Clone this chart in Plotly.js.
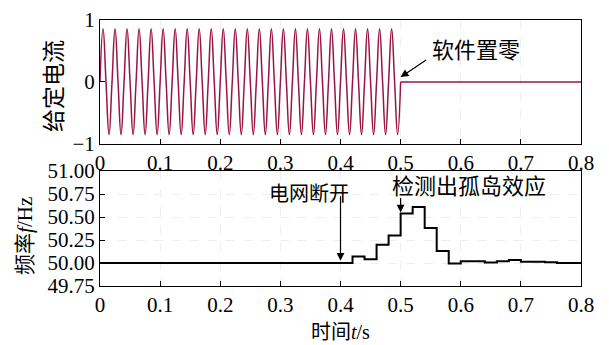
<!DOCTYPE html>
<html>
<head>
<meta charset="utf-8">
<script src="https://cdn.plot.ly/plotly-3.0.1.min.js"></script>
<style>html,body{margin:0;padding:0;background:#fff;}</style>
</head>
<body>
<div id="chart" style="width:609px;height:345px;"></div>
<script>
const currentT = [0,0.005,0.01,0.015,0.02,0.025,0.03,0.035,0.04,0.045,
  0.05,0.055,0.06,0.065,0.07,0.075,0.08,0.085,0.09,0.095,
  0.1,0.105,0.11,0.115,0.12,0.125,0.13,0.135,0.14,0.145,
  0.15,0.155,0.16,0.165,0.17,0.175,0.18,0.185,0.19,0.195,
  0.2,0.205,0.21,0.215,0.22,0.225,0.23,0.235,0.24,0.245,
  0.25,0.255,0.26,0.265,0.27,0.275,0.28,0.285,0.29,0.295,
  0.3,0.305,0.31,0.315,0.32,0.325,0.33,0.335,0.34,0.345,
  0.35,0.355,0.36,0.365,0.37,0.375,0.38,0.385,0.39,0.395,
  0.4,0.405,0.41,0.415,0.42,0.425,0.43,0.435,0.44,0.445,
  0.45,0.455,0.46,0.465,0.47,0.475,0.48,0.485,0.49,0.495,0.5];
const currentV = [0,0.86,0,-0.85,0,0.86,0,-0.85,0,0.86,
  0,-0.85,0,0.86,0,-0.85,0,0.86,0,-0.85,
  0,0.86,0,-0.85,0,0.86,0,-0.85,0,0.86,
  0,-0.85,0,0.86,0,-0.85,0,0.86,0,-0.85,
  0,0.86,0,-0.85,0,0.86,0,-0.85,0,0.86,
  0,-0.85,0,0.86,0,-0.85,0,0.86,0,-0.85,
  0,0.86,0,-0.85,0,0.86,0,-0.85,0,0.86,
  0,-0.85,0,0.86,0,-0.85,0,0.86,0,-0.85,
  0,0.86,0,-0.85,0,0.86,0,-0.85,0,0.86,
  0,-0.85,0,0.86,0,-0.85,0,0.86,0,-0.85,0];
const zeroT = [0.5, 0.8];
const zeroV = [0, 0];

// Bottom panel: measured frequency (step changes)
const freqT = [0, 0.42, 0.44, 0.46, 0.48, 0.50, 0.52, 0.54, 0.56, 0.58, 0.60, 0.64, 0.66, 0.68, 0.70, 0.74, 0.76, 0.80];
const freqV = [50.0, 50.07, 50.04, 50.20, 50.30, 50.54, 50.61, 50.38, 50.13, 49.995, 50.02, 50.005, 50.02, 50.033, 50.015, 50.008, 50.0, 50.0];

const xTickVals = [0, 0.1, 0.2, 0.3, 0.4, 0.5, 0.6, 0.7, 0.8];
const xTickText = ['0','0.1','0.2','0.3','0.4','0.5','0.6','0.7','0.8'];
const yTopTicks = [-1, 0, 1];
const yTopText = ['\u22121','0','1'];
const yBotTicks = [49.75, 50.0, 50.25, 50.5, 50.75, 51.0];

const serif = "'Liberation Serif', 'Noto Sans CJK SC', serif";
const tickFont = {family: serif, size: 21, color: '#000'};

const axisCommon = {
  showline: true, linecolor: '#000', linewidth: 1, mirror: true,
  ticks: 'inside', ticklen: 5, tickwidth: 1, tickcolor: '#000',
  tickfont: tickFont, zeroline: false,
  showgrid: true, gridcolor: '#eeeeee', griddash: 'dash', gridwidth: 1
};

const traces = [
  {x: currentT, y: currentV, type: 'scatter', mode: 'lines',
   line: {color: '#9b1540', width: 1.5, shape: 'spline', smoothing: 1.3},
   xaxis: 'x', yaxis: 'y', hoverinfo: 'skip'},
  {x: zeroT, y: zeroV, type: 'scatter', mode: 'lines',
   line: {color: '#9b1540', width: 1.5},
   xaxis: 'x', yaxis: 'y', hoverinfo: 'skip'},
  {x: freqT, y: freqV, type: 'scatter', mode: 'lines',
   line: {color: '#000', width: 2, shape: 'hv'},
   xaxis: 'x2', yaxis: 'y2', hoverinfo: 'skip'}
];

const layout = {
  width: 609, height: 345,
  margin: {l: 100, r: 28, t: 20, b: 59},
  paper_bgcolor: '#fff', plot_bgcolor: '#fff',
  showlegend: false,
  xaxis: Object.assign({}, axisCommon, {domain: [0, 1], range: [0, 0.8], tickvals: xTickVals, ticktext: xTickText, anchor: 'y'}),
  yaxis: Object.assign({}, axisCommon, {domain: [0.534, 1], range: [-1, 1], tickvals: yTopTicks, ticktext: yTopText, anchor: 'x', showgrid: false}),
  xaxis2: Object.assign({}, axisCommon, {domain: [0, 1], range: [0, 0.8], tickvals: xTickVals, ticktext: xTickText, anchor: 'y2'}),
  yaxis2: Object.assign({}, axisCommon, {domain: [0, 0.432], range: [49.75, 51], tickvals: yBotTicks, tickformat: '.2f', anchor: 'x2'}),
  annotations: [
    {xref: 'paper', yref: 'paper', x: -0.0936, y: 0.752, text: '给定电流', textangle: -90,
     showarrow: false, xanchor: 'center', yanchor: 'middle', font: {family: serif, size: 23, color: '#000'}},
    {xref: 'paper', yref: 'paper', x: -0.156, y: 0.188, text: '频率<i>f</i>/Hz', textangle: -90,
     showarrow: false, xanchor: 'center', yanchor: 'middle', font: {family: serif, size: 21, color: '#000'}},
    {xref: 'paper', yref: 'paper', x: 0.5, y: -0.172, text: '时间<i>t</i>/s',
     showarrow: false, xanchor: 'center', yanchor: 'middle', borderpad: 0, font: {family: serif, size: 20, color: '#000'}},
    // text labels
    {xref: 'x', yref: 'y', x: 0.625, y: 0.5, text: '软件置零', showarrow: false,
     xanchor: 'center', yanchor: 'middle', font: {family: serif, size: 22, color: '#000'}},
    {xref: 'x2', yref: 'y2', x: 0.348, y: 50.75, text: '电网断开', showarrow: false,
     xanchor: 'center', yanchor: 'middle', font: {family: serif, size: 20, color: '#000'}},
    {xref: 'x2', yref: 'y2', x: 0.614, y: 50.83, text: '检测出孤岛效应', showarrow: false,
     xanchor: 'center', yanchor: 'middle', font: {family: serif, size: 22, color: '#000'}},
    // arrows
    {xref: 'x', yref: 'y', x: 0.5, y: 0.08, ax: 27, ay: -18, text: '', showarrow: true,
     arrowhead: 2, arrowsize: 1.3, arrowwidth: 1.2, arrowcolor: '#000'},
    {xref: 'x2', yref: 'y2', x: 0.4, y: 50.025, ax: 0, ay: -66, text: '', showarrow: true,
     arrowhead: 2, arrowsize: 1.3, arrowwidth: 1.2, arrowcolor: '#000'},
    {xref: 'x2', yref: 'y2', x: 0.5, y: 50.55, ax: 0, ay: -16, text: '', showarrow: true,
     arrowhead: 2, arrowsize: 1.3, arrowwidth: 1.2, arrowcolor: '#000'}
  ]
};

Plotly.newPlot('chart', traces, layout, {staticPlot: true, displayModeBar: false});
</script>
</body>
</html>
